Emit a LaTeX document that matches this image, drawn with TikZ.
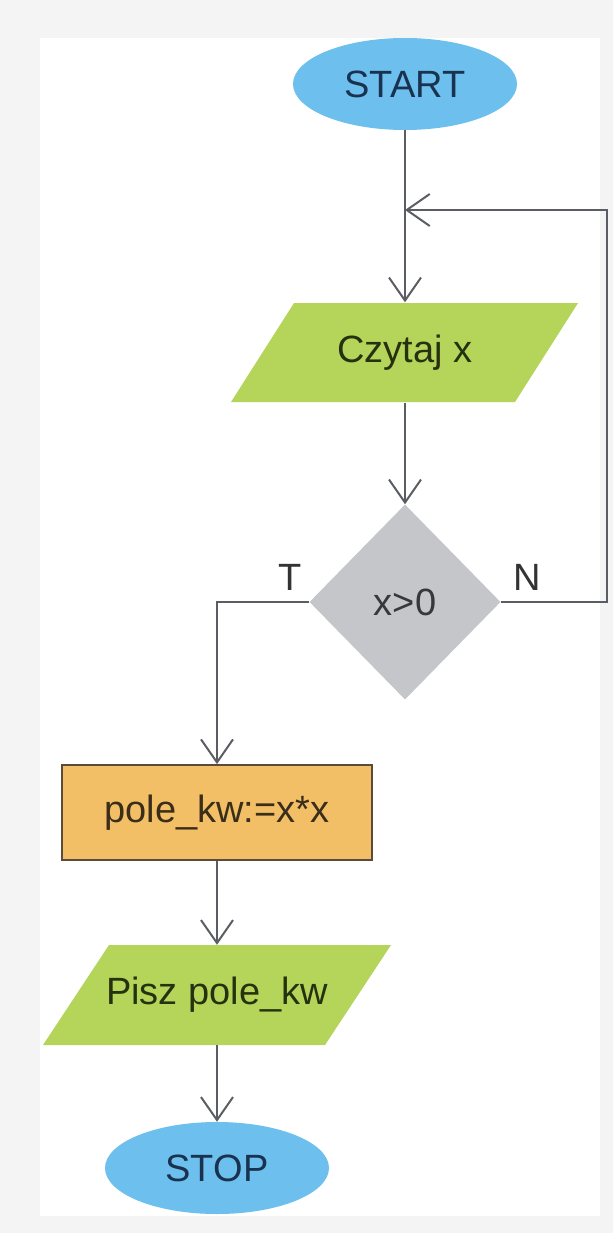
\documentclass[tikz,border=0pt]{standalone}
\usepackage{fontspec}
\setmainfont{Liberation Sans}
\usetikzlibrary{arrows.meta,shapes.geometric}

\definecolor{pagegray}{HTML}{F4F4F4}
\definecolor{termblue}{HTML}{6DC0EE}
\definecolor{iogreen}{HTML}{B5D45A}
\definecolor{decgray}{HTML}{C5C6CA}
\definecolor{procorange}{HTML}{F2BF66}
\definecolor{procedge}{HTML}{5A4B3A}
\definecolor{wire}{HTML}{5A5E64}
\definecolor{termink}{HTML}{18324F}
\definecolor{ioink}{HTML}{25310F}
\definecolor{decink}{HTML}{37383C}
\definecolor{procink}{HTML}{3A2E1A}
\definecolor{labink}{HTML}{333333}

\begin{document}
\begin{tikzpicture}[x=1pt,y=-1pt,
  every node/.style={font=\fontsize{38}{40}\selectfont},
  terminal/.style={ellipse, fill=termblue, text=termink,
    minimum width=224pt, minimum height=92pt, inner sep=0pt},
  iolabel/.style={rectangle, text=ioink, minimum width=10pt,
    minimum height=100pt, inner sep=0pt},
  iofill/.style={fill=iogreen},
  decision/.style={diamond, fill=decgray, text=decink,
    minimum width=191pt, minimum height=195pt, inner sep=0pt},
  process/.style={rectangle, fill=procorange, draw=procedge, line width=1.8pt,
    text=procink, minimum width=310pt, minimum height=95pt, inner sep=0pt},
  branchlabel/.style={text=labink, inner sep=0pt},
  flow/.style={draw=wire, line width=2pt,
    -{Straight Barb[length=23pt,width=32pt]}}
]
  % page and sheet
  \fill[pagegray] (0,0) rectangle (613,1233);
  \fill[white] (40,38) rectangle (600,1216);
  \useasboundingbox (0,0) rectangle (613,1233);

  % input / output parallelograms
  \fill[iofill] (294,303) -- (578,303) -- (515,402) -- (231,402) -- cycle;
  \fill[iofill] (109,945) -- (391,945) -- (325,1045) -- (43,1045) -- cycle;

  % blocks
  \node[terminal] (start) at (405,84) {START};
  \node[iolabel] (read) at (405,352.5) {Czytaj x};
  \node[decision] (test) at (405,602) {x>0};
  \node[branchlabel] (tlab) at (290,577) {T};
  \node[branchlabel] (nlab) at (527,577) {N};
  \node[process] (calc) at (217,812.5) {pole\_kw:=x*x};
  \node[iolabel] (write) at (217,995) {Pisz pole\_kw};
  \node[terminal] (stop) at (217,1168) {STOP};

  % connectors
  \coordinate (join) at (405,210);
  \draw[flow] (start.south) -- (read.north);
  \draw[flow] (read.south) -- (test.north);
  \draw[flow] (test.east) -- ++(106,0) |- (join);
  \draw[flow] (test.west) -| (calc.north);
  \draw[flow] (calc.south) -- (write.north);
  \draw[flow] (write.south) -- (stop.north);
\end{tikzpicture}
\end{document}
